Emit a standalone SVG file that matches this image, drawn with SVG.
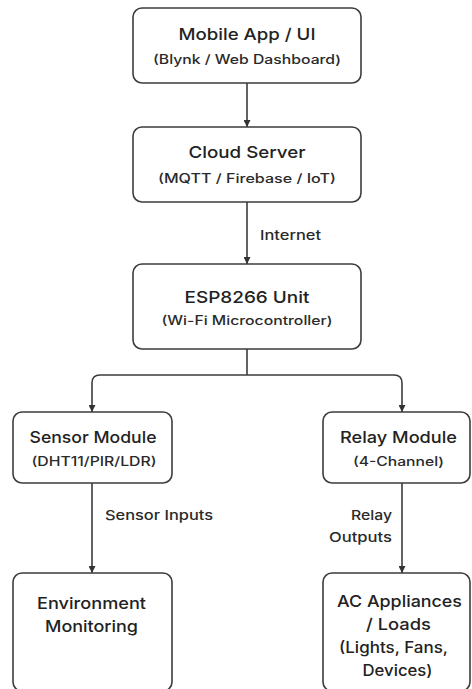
<svg xmlns="http://www.w3.org/2000/svg" width="472" height="689" viewBox="0 0 472 689">
<defs>
<style>
.box{fill:#fff;stroke:#3c3c3c;stroke-width:1.6}
.edge{fill:none;stroke:#3c3c3c;stroke-width:1.6}
.t{font-family:Inter,"Liberation Sans",sans-serif;font-size:16.5px;font-weight:500;fill:#222;text-anchor:middle}
.s{font-family:Inter,"Liberation Sans",sans-serif;font-size:12.5px;font-weight:500;fill:#2a2a2a;text-anchor:middle}
.l{font-family:Inter,"Liberation Sans",sans-serif;font-size:13.5px;font-weight:500;fill:#2a2a2a}
.m{font-family:Inter,"Liberation Sans",sans-serif;font-size:15.5px;font-weight:500;fill:#222;text-anchor:middle}
</style>
<marker id="arr" viewBox="0 0 10 10" refX="10" refY="5" markerWidth="7" markerHeight="7" markerUnits="userSpaceOnUse" orient="auto">
<path d="M0,0 L10,5 L0,10 z" fill="#333"/>
</marker>
</defs>
<rect width="472" height="689" fill="#fff"/>
<g id="connectors">
<line class="edge" x1="247" y1="83" x2="247" y2="127" marker-end="url(#arr)"/>
<line class="edge" x1="247" y1="202" x2="247" y2="264" marker-end="url(#arr)"/>
<path class="edge" d="M247,349 V375"/>
<path class="edge" d="M247,375 H100 Q92,375 92,383 V412" marker-end="url(#arr)"/>
<path class="edge" d="M247,375 H394 Q402,375 402,383 V412" marker-end="url(#arr)"/>
<line class="edge" x1="92" y1="483" x2="92" y2="573" marker-end="url(#arr)"/>
<line class="edge" x1="402" y1="483" x2="402" y2="573" marker-end="url(#arr)"/>
<text class="l" x="260" y="240" textLength="61" lengthAdjust="spacingAndGlyphs">Internet</text>
<text class="l" x="105" y="520" textLength="108" lengthAdjust="spacingAndGlyphs">Sensor Inputs</text>
<text class="l" x="351" y="520" textLength="41" lengthAdjust="spacingAndGlyphs">Relay</text>
<text class="l" x="329" y="542" textLength="63" lengthAdjust="spacingAndGlyphs">Outputs</text>
</g>
<g id="mobile">
<rect class="box" x="133" y="8" width="228" height="75" rx="9"/>
<text class="t" x="247" y="40" textLength="137" lengthAdjust="spacingAndGlyphs">Mobile App / UI</text>
<text class="s" x="247" y="64" textLength="188" lengthAdjust="spacingAndGlyphs">(Blynk / Web Dashboard)</text>
</g>
<g id="cloud">
<rect class="box" x="133" y="127" width="228" height="75" rx="9"/>
<text class="t" x="247" y="158" textLength="117" lengthAdjust="spacingAndGlyphs">Cloud Server</text>
<text class="s" x="247" y="183" textLength="178" lengthAdjust="spacingAndGlyphs">(MQTT / Firebase / IoT)</text>
</g>
<g id="esp">
<rect class="box" x="133" y="264" width="228" height="85" rx="9"/>
<text class="t" x="247" y="303" textLength="125" lengthAdjust="spacingAndGlyphs">ESP8266 Unit</text>
<text class="s" x="247" y="325" textLength="171" lengthAdjust="spacingAndGlyphs">(Wi-Fi Microcontroller)</text>
</g>
<g id="sensor">
<rect class="box" x="13" y="412" width="159" height="71" rx="9"/>
<text class="t" x="93" y="443" textLength="127" lengthAdjust="spacingAndGlyphs">Sensor Module</text>
<text class="s" x="94" y="466" textLength="125" lengthAdjust="spacingAndGlyphs">(DHT11/PIR/LDR)</text>
</g>
<g id="relay">
<rect class="box" x="323" y="412" width="147" height="71" rx="9"/>
<text class="t" x="398.5" y="443" textLength="117" lengthAdjust="spacingAndGlyphs">Relay Module</text>
<text class="s" x="398.5" y="466" textLength="91" lengthAdjust="spacingAndGlyphs">(4-Channel)</text>
</g>
<g id="environment">
<rect class="box" x="13" y="573" width="159" height="118" rx="9"/>
<text class="t" x="91.5" y="609" textLength="109" lengthAdjust="spacingAndGlyphs">Environment</text>
<text class="t" x="91.5" y="632" textLength="93" lengthAdjust="spacingAndGlyphs">Monitoring</text>
</g>
<g id="appliances">
<rect class="box" x="323" y="573" width="147" height="118" rx="9"/>
<text class="t" x="399.5" y="607" textLength="125" lengthAdjust="spacingAndGlyphs">AC Appliances</text>
<text class="t" x="398.5" y="630" textLength="65" lengthAdjust="spacingAndGlyphs">/ Loads</text>
<text class="m" x="393.5" y="653" textLength="109" lengthAdjust="spacingAndGlyphs">(Lights, Fans,</text>
<text class="m" x="397.5" y="676" textLength="70" lengthAdjust="spacingAndGlyphs">Devices)</text>
</g>
</svg>
